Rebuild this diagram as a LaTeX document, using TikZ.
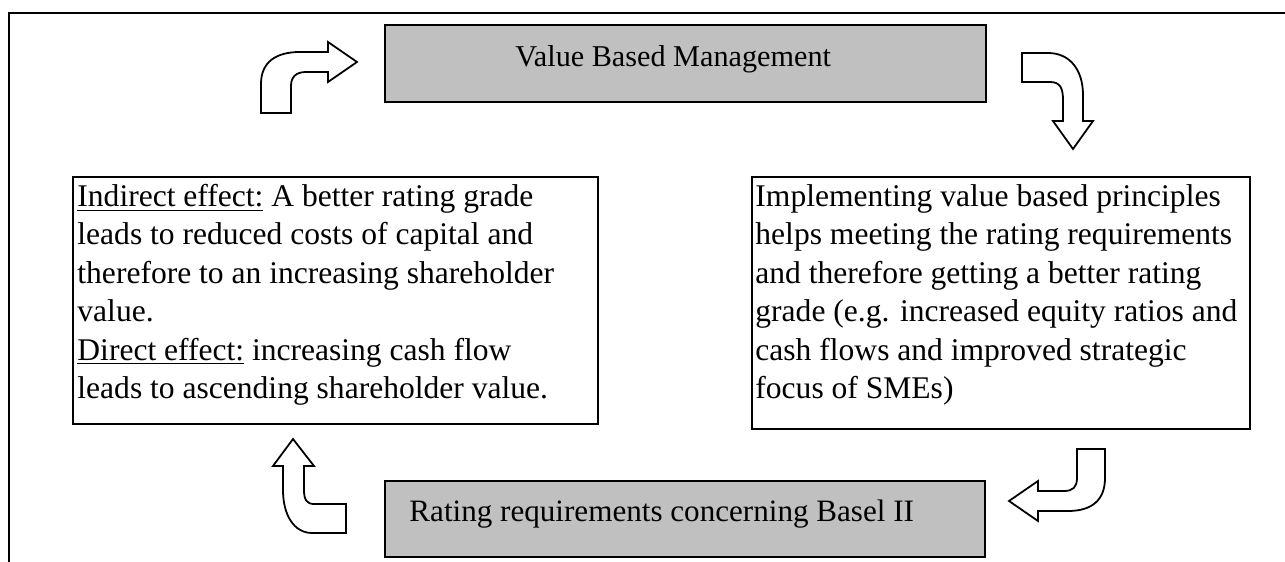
\documentclass[tikz,border=0pt]{standalone}
\usepackage{fontspec}
\setmainfont{Liberation Serif}
\usetikzlibrary{fit}
\definecolor{boxgray}{RGB}{192,192,192}
\tikzset{
  graybox/.style={draw, fill=boxgray, line width=0.7pt, inner sep=0pt},
  plainbox/.style={draw, line width=0.7pt, inner sep=0pt},
  boxtext/.style={inner sep=0pt, align=left, anchor=north west, font=\fontsize{14.2}{17.3}\selectfont},
  titletext/.style={inner sep=0pt, anchor=base west, font=\fontsize{14}{16}\selectfont},
  blockarrow/.style={draw, line width=0.8pt, fill=white, line join=miter},
}
\begin{document}
\begin{tikzpicture}[x=0.45pt, y=-0.45pt]
\useasboundingbox (0,0) rectangle (1285,562);
% outer frame
\draw[line width=1pt] (9,562) -- (9,13) -- (1285,13);

% boxes
\node[graybox, fit={(385,25) (986,102)}] (vbm) {};
\node[graybox, fit={(385,481) (985,557)}] (basel) {};
\node[plainbox, fit={(73,177) (598,424)}] (effect) {};
\node[plainbox, fit={(752,177) (1250,429)}] (principles) {};

% texts
\node[titletext, font=\fontsize{13.6}{16}\selectfont] (vbmtext) at (515,67) {Value Based Management};
\node[titletext] (baseltext) at (409,522) {Rating requirements concerning Basel II};
\node[boxtext] (effecttext) at (77,179.1) {\strut\underline{Indirect effect:} A better rating grade\\
leads to reduced costs of capital and\\
therefore to an increasing shareholder\\
value.\\
\underline{Direct effect:} increasing cash flow\\
leads to ascending shareholder value.};
\node[boxtext] (principlestext) at (755,179.1) {\strut Implementing value based principles\\
helps meeting the rating requirements\\
and therefore getting a better rating\\
grade (e.g. increased equity ratios and\\
cash flows and improved strategic\\
focus of SMEs)};

% block arrows
\draw[blockarrow] (261,113) -- (261,84) .. controls (261,62) and (276,52) .. (300,52) -- (328,52) -- (328,42) -- (357,62) -- (328,82) -- (328,72) -- (306,72) .. controls (296,72) and (291,77) .. (291,86) -- (291,113) -- cycle;
\draw[blockarrow] (1022,53) -- (1048,53) .. controls (1070,53) and (1083,70) .. (1083,95) -- (1083,121) -- (1093,121) -- (1073,149) -- (1053,121) -- (1063,121) -- (1063,100) .. controls (1063,88) and (1060,82) .. (1050,82) -- (1022,82) -- cycle;
\draw[blockarrow] (1077,449) -- (1105,449) -- (1105,478) .. controls (1105,500) and (1092,511) .. (1068,511) -- (1038,511) -- (1038,521) -- (1009,501) -- (1038,481) -- (1038,491) -- (1064,491) .. controls (1073,491) and (1077,487) .. (1077,478) -- cycle;
\draw[blockarrow] (346,533) -- (312,533) .. controls (294,533) and (283,515) .. (283,490) -- (283,466) -- (273,466) -- (293,439) -- (314,466) -- (304,466) -- (304,490) .. controls (304,500) and (307,504) .. (314,504) -- (346,504) -- cycle;
\end{tikzpicture}
\end{document}
